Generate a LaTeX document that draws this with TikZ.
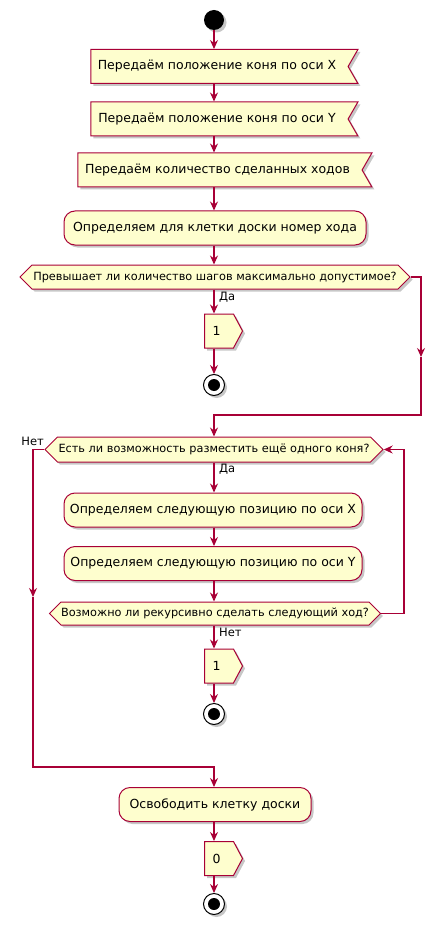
\documentclass[tikz,border=0pt]{standalone}
\usepackage{fontspec}
\setmainfont{DejaVu Sans}
\usetikzlibrary{arrows.meta,shapes.symbols,shadows}
\definecolor{rama}{HTML}{A80036}
\definecolor{fon}{HTML}{FEFECE}
\begin{document}
\begin{tikzpicture}[x=1pt,y=-1pt,>={Stealth[length=9pt,width=8pt,inset=3pt]},
  liniya/.style={draw=rama,line width=1.1pt},
  ten/.style={drop shadow={shadow xshift=2.5pt,shadow yshift=-2.5pt,fill=black,opacity=.22}},
  blok/.style={draw=rama,fill=fon,line width=1pt,ten,inner xsep=0pt,inner ysep=0pt,
    font=\fontsize{12.5}{14}\selectfont},
  deistvie/.style={blok,rectangle,rounded corners=11pt,minimum height=34pt},
  priem/.style={blok,signal,signal from=east,signal to=nowhere,signal pointer angle=120,minimum height=34pt,
    execute at end node=\hspace{5pt}},
  otpravka/.style={blok,signal,signal to=east,signal from=nowhere,signal pointer angle=124,
    minimum width=38pt,minimum height=34pt,execute at end node=\hspace{5pt}},
  vopros/.style={blok,signal,signal to=west and east,signal pointer angle=90,
    font=\fontsize{11.3}{13}\selectfont},
  nachalo/.style={circle,fill=black,minimum size=20pt,inner sep=0pt,ten},
  konec/.style={circle,draw=black,fill=white,line width=1pt,minimum size=21pt,inner sep=0pt,ten,
    path picture={\fill[black] (path picture bounding box.center) circle (6pt);}},
  metka/.style={font=\fontsize{11.5}{13}\selectfont,inner sep=0pt}]
\def\strelka#1#2{
\draw[liniya,->] #1 -- #2;
}
\useasboundingbox (0,0) rectangle (446,925);

\node[nachalo] (start) at (214,20) {};
\node[priem,minimum width=267pt] (peredX) at (219.5,66.5) {Передаём положение коня по оси X};
\node[priem,minimum width=267pt] (peredY) at (219.5,119) {Передаём положение коня по оси Y};
\node[priem,minimum width=294pt] (peredHod) at (220,170) {Передаём количество сделанных ходов};
\node[deistvie,minimum width=302pt] (opredNomer) at (215,228) {Определяем для клетки доски номер хода};
\node[vopros,minimum width=390pt,minimum height=24pt] (vopros1) at (215,277) {Превышает ли количество шагов максимально допустимое?};
\node[otpravka] (otprav1) at (219,331) {1};
\node[konec] (stop1) at (214,385) {};

\node[vopros,minimum width=338pt,minimum height=25pt] (vopros2) at (214,449.5) {Есть ли возможность разместить ещё одного коня?};
\node[deistvie,minimum width=298pt] (opredX) at (213,510) {Определяем следующую позицию по оси X};
\node[deistvie,minimum width=298pt] (opredY) at (213,563.5) {Определяем следующую позицию по оси Y};
\node[vopros,minimum width=330pt,minimum height=23pt] (vopros3) at (215,613.5) {Возможно ли рекурсивно сделать следующий ход?};
\node[otpravka] (otprav2) at (219,666) {1};
\node[konec] (stop2) at (214,714) {};

\node[deistvie,minimum width=192pt] (osvob) at (215,804.5) {Освободить клетку доски};
\node[otpravka] (otprav0) at (219,858.5) {0};
\node[konec] (stop3) at (214,904) {};

\coordinate (pravo1) at (421,357);
\coordinate (pravo2) at (421,415);
\coordinate (povtor) at (404,449.5);
\coordinate (levo1) at (33,597);
\coordinate (levo2) at (33,767);

\strelka{(start)}{(start |- peredX.north)}
\strelka{(start |- peredX.south)}{(start |- peredY.north)}
\strelka{(start |- peredY.south)}{(start |- peredHod.north)}
\strelka{(start |- peredHod.south)}{(start |- opredNomer.north)}
\strelka{(start |- opredNomer.south)}{(start |- vopros1.north)}
\strelka{(start |- vopros1.south)}{(start |- otprav1.north)}
\strelka{(start |- otprav1.south)}{(stop1)}
\draw[liniya,->] (vopros1.east) -| (pravo1);
\draw[liniya,->] (pravo1) -- (pravo2) -| (start |- vopros2.north);

\strelka{(start |- vopros2.south)}{(start |- opredX.north)}
\strelka{(start |- opredX.south)}{(start |- opredY.north)}
\strelka{(start |- opredY.south)}{(start |- vopros3.north)}
\strelka{(start |- vopros3.south)}{(start |- otprav2.north)}
\strelka{(start |- otprav2.south)}{(stop2)}
\draw[liniya,->] (vopros3.east) -| (povtor) -- (vopros2.east);

\draw[liniya,->] (vopros2.west) -| (levo1);
\draw[liniya,->] (levo1) -- (levo2) -| (start |- osvob.north);
\strelka{(start |- osvob.south)}{(start |- otprav0.north)}
\strelka{(start |- otprav0.south)}{(stop3)}

\node[metka,anchor=west] (da1) at (219,297) {Да};
\node[metka,anchor=east] (net1) at (44,441) {Нет};
\node[metka,anchor=west] (da2) at (219,469) {Да};
\node[metka,anchor=west] (net2) at (219,632) {Нет};
\end{tikzpicture}
\end{document}
